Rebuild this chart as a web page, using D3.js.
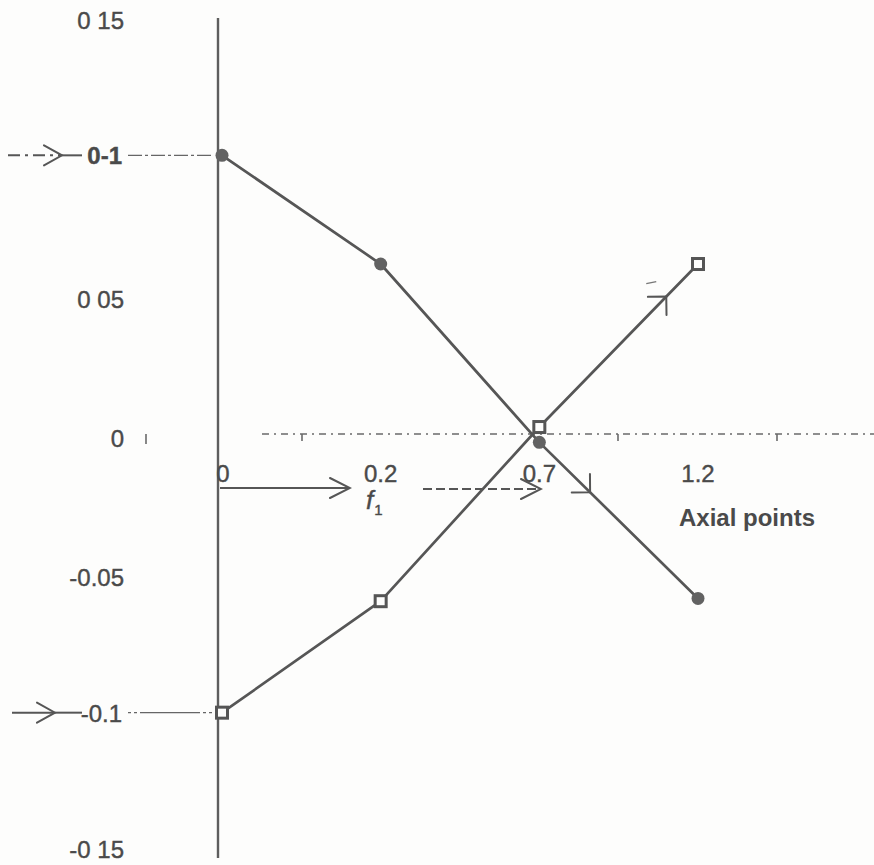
<!DOCTYPE html>
<html>
<head>
<meta charset="utf-8">
<script src="https://cdn.jsdelivr.net/npm/d3@7"></script>
<style>
  html, body { margin: 0; padding: 0; background: #fdfdfc; }
  svg { display: block; }
  text { font-family: "Liberation Sans", Arial, sans-serif; fill: #4a4a4a; }
</style>
</head>
<body>
<svg id="chart" width="874" height="865"></svg>
<script>
// Axial points along the element and the two response branches
const axialPoints = ["0", "0.2", "0.7", "1.2"];
const branchCircle = [0.1, 0.061, -0.003, -0.059];
const branchSquare = [-0.1, -0.06, 0.0025, 0.061];

// Vertical axis ticks and the labels printed beside them
const yTicks = [0.15, 0.05, 0, -0.05, -0.15];
const yTickLabels = ["0 15", "0 05", "0", "-0.05", "-0 15"];
const startLabels = [
  { value: 0.1, text: "0-1" },
  { value: -0.1, text: "-0.1" }
];

const ink = "#565656";
const svg = d3.select("#chart");

const y = d3.scaleLinear().domain([-0.15, 0.15]).range([852, 16]);
const x = d3.scalePoint().domain(axialPoints).range([222, 698]);

const axisX = x("0") - 4;

// arrowheads: narrow ones for horizontal arrows, right-angled ones on the branches
const defs = svg.append("defs");
function chevron(id, len, half, width) {
  defs.append("marker")
    .attr("id", id)
    .attr("viewBox", `${-len - 2} ${-half - 2} ${len + 4} ${2 * half + 4}`)
    .attr("refX", 0).attr("refY", 0)
    .attr("markerWidth", len + 4).attr("markerHeight", 2 * half + 4)
    .attr("markerUnits", "userSpaceOnUse")
    .attr("orient", "auto")
    .append("path")
    .attr("d", `M${-len},${-half} L0,0 L${-len},${half}`)
    .attr("fill", "none")
    .attr("stroke", ink)
    .attr("stroke-width", width)
    .attr("stroke-linecap", "round");
}
chevron("chev", 20, 10, 2);
chevron("chevSmall", 18, 10, 2);
chevron("chevWide", 13, 13, 2);

// vertical axis
svg.append("line")
  .attr("x1", axisX).attr("x2", axisX)
  .attr("y1", 18).attr("y2", 858)
  .attr("stroke", "#5e5e5e").attr("stroke-width", 2.4);

// vertical tick labels
svg.selectAll("text.ytick")
  .data(yTicks)
  .join("text")
  .attr("class", "ytick")
  .attr("x", 124)
  .attr("y", d => Math.min(y(d) + 13, 858))
  .attr("text-anchor", "end")
  .attr("font-size", 24)
  .attr("stroke", "#4a4a4a").attr("stroke-width", 0.4)
  .text((d, i) => yTickLabels[i]);

// horizontal zero reference (dash-dot)
svg.append("line")
  .attr("x1", 262).attr("x2", 874)
  .attr("y1", y(0)).attr("y2", y(0))
  .attr("stroke", "#6a6a6a").attr("stroke-width", 1.4)
  .attr("stroke-dasharray", "7,5,2,5");

// small tick marks on the zero reference
const zeroTicks = [146, 302, 618, 777];
svg.selectAll("line.ztick")
  .data(zeroTicks)
  .join("line")
  .attr("class", "ztick")
  .attr("x1", d => d).attr("x2", d => d)
  .attr("y1", y(0)).attr("y2", (d, i) => y(0) + (i === 0 ? 10 : 7))
  .attr("stroke", "#6a6a6a").attr("stroke-width", 1.6);

// starting values marked with arrows on the left
startLabels.forEach((s, i) => {
  const yy = y(s.value);
  const tip = i === 0 ? 62 : 55;
  svg.append("line")
    .attr("x1", i === 0 ? 8 : 12).attr("x2", tip)
    .attr("y1", yy).attr("y2", yy)
    .attr("stroke", ink).attr("stroke-width", 2)
    .attr("stroke-dasharray", i === 0 ? "12,5,3,5" : null)
    .attr("marker-end", "url(#chevSmall)");
  svg.append("line")
    .attr("x1", tip).attr("x2", 82)
    .attr("y1", yy).attr("y2", yy)
    .attr("stroke", ink).attr("stroke-width", 2);
  svg.append("text")
    .attr("x", 122).attr("y", yy + 9)
    .attr("text-anchor", "end")
    .attr("font-size", 24)
    .attr("font-weight", i === 0 ? "bold" : "normal")
    .attr("stroke", "#4a4a4a").attr("stroke-width", 0.4)
    .text(s.text);
  svg.append("line")
    .attr("x1", 128).attr("x2", axisX - 5)
    .attr("y1", yy).attr("y2", yy)
    .attr("stroke", "#666").attr("stroke-width", 1.4)
    .attr("stroke-dasharray", i === 0 ? "14,3,3,3" : "3,3,3,3,60,3,3,3");
});

// axial point labels
svg.selectAll("text.xlab")
  .data(axialPoints)
  .join("text")
  .attr("class", "xlab")
  .attr("x", d => x(d) + (d === "0" ? 1 : 0))
  .attr("y", 482)
  .attr("text-anchor", "middle")
  .attr("font-size", 24)
  .attr("stroke", "#4a4a4a").attr("stroke-width", 0.4)
  .text(d => d);

// f1 arrows between axial points
svg.append("line")
  .attr("x1", axisX + 2).attr("x2", 350)
  .attr("y1", 488).attr("y2", 488)
  .attr("stroke", ink).attr("stroke-width", 2)
  .attr("marker-end", "url(#chev)");
svg.append("line")
  .attr("x1", 423).attr("x2", 541)
  .attr("y1", 489).attr("y2", 489)
  .attr("stroke", ink).attr("stroke-width", 1.8)
  .attr("stroke-dasharray", "9,4")
  .attr("marker-end", "url(#chev)");
const f1 = svg.append("text")
  .attr("x", 366).attr("y", 509)
  .attr("font-size", 26)
  .attr("font-style", "italic")
  .attr("stroke", "#4a4a4a").attr("stroke-width", 0.4);
f1.append("tspan").text("f");
f1.append("tspan").attr("font-size", 15).attr("dy", 6).attr("dx", 1).attr("font-style", "normal").text("1");

// axis title
svg.append("text")
  .attr("x", 747).attr("y", 526)
  .attr("text-anchor", "middle")
  .attr("font-size", 24)
  .attr("font-weight", "bold")
  .text("Axial points");

// response branches
const line = d3.line().x((d, i) => x(axialPoints[i])).y(d => y(d));
[branchCircle, branchSquare].forEach(series => {
  svg.append("path")
    .datum(series)
    .attr("d", line)
    .attr("fill", "none")
    .attr("stroke", ink)
    .attr("stroke-width", 2.7)
    .attr("stroke-linejoin", "round");
});

// direction arrows riding on the branches
function branchArrow(series, i0, t) {
  const x0 = x(axialPoints[i0]), y0 = y(series[i0]);
  const x1 = x(axialPoints[i0 + 1]), y1 = y(series[i0 + 1]);
  const px = x0 + (x1 - x0) * t, py = y0 + (y1 - y0) * t;
  const dx = (x1 - x0) * 0.02, dy = (y1 - y0) * 0.02;
  svg.append("line")
    .attr("x1", px - dx).attr("y1", py - dy)
    .attr("x2", px).attr("y2", py)
    .attr("stroke", "none")
    .attr("marker-end", "url(#chevWide)");
  return [px, py];
}
const upTip = branchArrow(branchSquare, 2, 0.8);
branchArrow(branchCircle, 2, 0.32);

// short hand-drawn stroke beside the upper arrow
svg.append("line")
  .attr("x1", upTip[0] - 20).attr("x2", upTip[0] - 10)
  .attr("y1", upTip[1] - 13).attr("y2", upTip[1] - 15)
  .attr("stroke", "#777").attr("stroke-width", 1.5);

// markers
svg.selectAll("circle.pt")
  .data(branchCircle)
  .join("circle")
  .attr("class", "pt")
  .attr("cx", (d, i) => x(axialPoints[i]))
  .attr("cy", d => y(d))
  .attr("r", 6.5)
  .attr("fill", "#626262");

svg.selectAll("rect.pt")
  .data(branchSquare)
  .join("rect")
  .attr("class", "pt")
  .attr("x", (d, i) => x(axialPoints[i]) - 5.5)
  .attr("y", d => y(d) - 5.5)
  .attr("width", 11).attr("height", 11)
  .attr("fill", "#fdfdfc")
  .attr("stroke", "#555")
  .attr("stroke-width", 3);
</script>
</body>
</html>
